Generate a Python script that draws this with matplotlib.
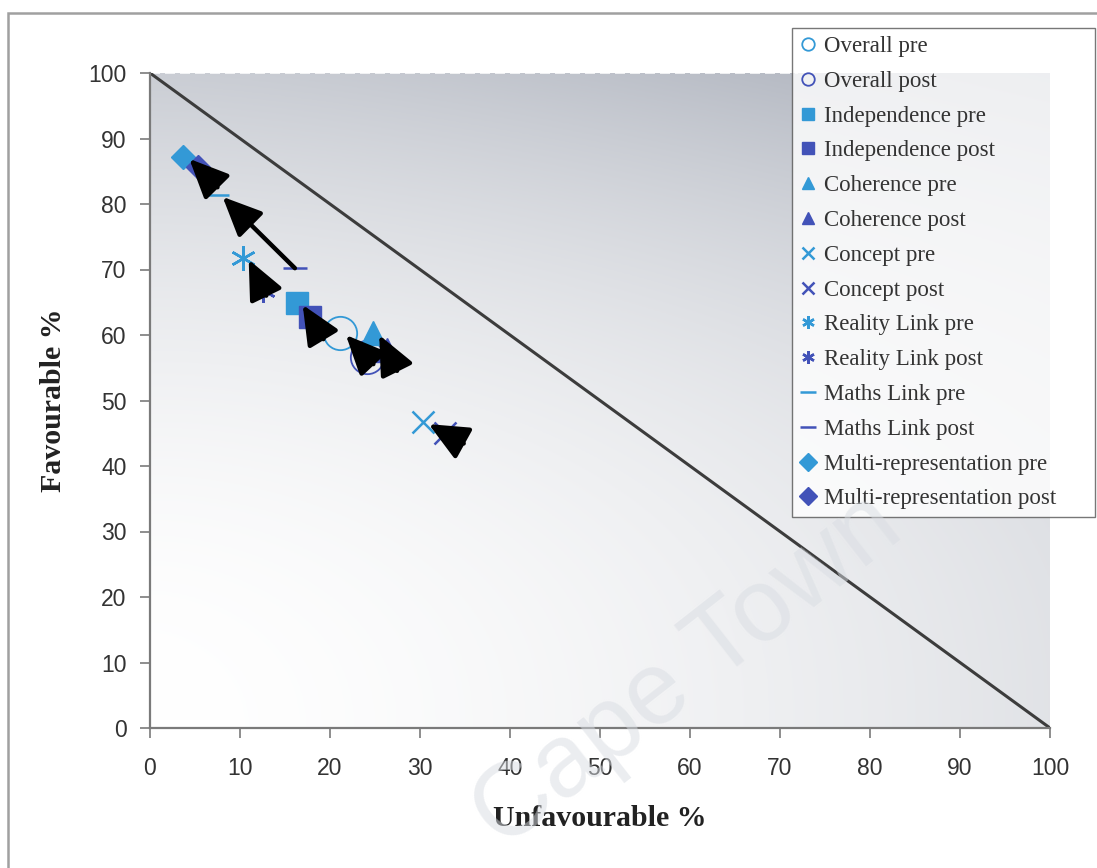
import numpy as np
import matplotlib
matplotlib.use("Agg")
import matplotlib.pyplot as plt
from matplotlib.lines import Line2D
from matplotlib.patches import Rectangle

# ---- data (Unfavourable %, Favourable %) ----
categories = ["Overall", "Independence", "Coherence", "Concept",
              "Reality Link", "Maths Link", "Multi-representation"]
pre_unfav = [21.1, 16.3, 24.8, 30.3, 10.3, 7.4, 3.7]
pre_fav = [60.3, 64.9, 60.3, 46.7, 71.8, 81.4, 87.2]
post_unfav = [24.1, 17.8, 26.3, 32.8, 12.6, 16.1, 5.3]
post_fav = [56.6, 62.7, 57.7, 45.0, 66.9, 70.2, 85.6]
x_ticks = [0, 10, 20, 30, 40, 50, 60, 70, 80, 90, 100]
y_ticks = [0, 10, 20, 30, 40, 50, 60, 70, 80, 90, 100]

markers = ["o", "s", "^", "x", "*", "_", "D"]
msizes = [24, 16, 17, 16, 18, 17, 12]
light = "#3399d6"
dark = "#4252b8"

W, H = 1097, 868
fig = plt.figure(figsize=(W / 100, H / 100), dpi=100)
fig.patch.set_facecolor("white")
ax = fig.add_axes([150 / W, (H - 728) / H, 900 / W, 655 / H])

# gradient background (white lower-left -> grey upper-right)
n = 300
gx, gy = np.meshgrid(np.linspace(0, 1, n), np.linspace(0, 1, n))
f = 0.35 * gx ** 1.5 + (0.62 + 0.03 * gx) * gy ** (2.05 + 0.65 * gx)
f = np.clip(f, 0, 1)
c0 = np.array([255, 255, 255]) / 255
c1 = np.array([170, 175, 186]) / 255
img = c0[None, None, :] * (1 - f[..., None]) + c1[None, None, :] * f[..., None]
ax.imshow(img, extent=[0, 100, 0, 100], origin="lower", aspect="auto", zorder=0)

ax.set_xlim(0, 100)
ax.set_ylim(0, 100)

# faint dotted line at top
ax.plot([0, 72], [100, 100], color="white", lw=1.2, ls=(0, (6, 3)), zorder=1, alpha=0.9)

# diagonal reference line
ax.plot([0, 100], [100, 0], color="#3c3c3c", lw=2.2, zorder=2)

handles = []
labels = []
for i, cat in enumerate(categories):
    for which, col, xs, ys in (("pre", light, pre_unfav, pre_fav),
                               ("post", dark, post_unfav, post_fav)):
        m = markers[i]
        kw = dict(marker=m, ls="none", color=col)
        if m == "o":
            kw.update(markerfacecolor="none", markeredgecolor=col, markeredgewidth=1.3)
        elif m in ("x", "*", "_"):
            kw.update(markeredgewidth=1.8)
            if m == "*":
                kw.update(marker=(6, 2, 0))
        else:
            kw.update(markeredgecolor=col)
        ax.plot([xs[i]], [ys[i]], markersize=msizes[i], zorder=3, **kw)
        handles.append(Line2D([], [], markersize=9 if m != "_" else 11, **kw))
        labels.append(f"{cat} {which}")

# arrows (post -> pre), built in display space so short moves still show a head
fig.canvas.draw()
to_pix = ax.transData
to_data = ax.transData.inverted()
for i in range(len(categories)):
    tip = np.array(to_pix.transform((pre_unfav[i], pre_fav[i]))) + np.array([6.0, -2.0])
    tail0 = np.array(to_pix.transform((post_unfav[i], post_fav[i])))
    d = tip - tail0
    L = np.hypot(*d)
    u = d / L
    tail = tip - u * max(L, 40.0)
    ax.annotate("", xy=to_data.transform(tip), xytext=to_data.transform(tail),
                arrowprops=dict(arrowstyle="-|>,head_length=1.0,head_width=0.45",
                                mutation_scale=24, lw=3.2, color="black",
                                shrinkA=0, shrinkB=0),
                zorder=5)

# axes styling
for s in ("top", "right"):
    ax.spines[s].set_visible(False)
for s in ("left", "bottom"):
    ax.spines[s].set_color("#7a7a7a")
    ax.spines[s].set_linewidth(1.6)
ax.set_xticks(x_ticks)
ax.set_yticks(y_ticks)
ax.tick_params(direction="out", length=7, width=1.2, color="#7a7a7a",
               labelsize=16.5, labelcolor="#333333")
ax.tick_params(axis="x", pad=14)
ax.tick_params(axis="y", pad=10)
for lab in ax.get_xticklabels() + ax.get_yticklabels():
    lab.set_family("Liberation Sans")

ax.set_xlabel("Unfavourable %", family="Liberation Serif", fontweight="bold",
              fontsize=21.5, color="#222222")
ax.set_ylabel("Favourable %", family="Liberation Serif", fontweight="bold",
              fontsize=21.5, color="#222222")
ax.xaxis.label.set_va("center")
ax.xaxis.set_label_coords(0.5, (728 - 818) / 655)
ax.yaxis.label.set_va("center")
ax.yaxis.label.set_ha("center")
ax.yaxis.set_label_coords((54 - 150) / 900, 0.5)

# watermark
fig.text(688 / W, 1 - 672 / H, "Cape Town", fontsize=74, color="#d8dce2",
         alpha=0.5, rotation=38, ha="center", va="center",
         family="Liberation Sans", zorder=10)

# legend
leg = fig.legend(handles, labels, loc="upper left",
                 bbox_to_anchor=(792 / W, (H - 517) / H, 303 / W, 489 / H),
                 mode="expand",
                 prop=dict(family="Liberation Serif", size=16.5),
                 frameon=True, fancybox=False, edgecolor="#555555",
                 labelspacing=0.6, handlelength=0.7, handletextpad=0.35,
                 borderpad=0.35, borderaxespad=0, numpoints=1)
leg.get_frame().set_linewidth(1.0)
for txt in leg.get_texts():
    txt.set_color("#333333")

# outer chart frame
fig.patches.append(Rectangle((8 / W, -0.05), 1.1, 1.05 - 13 / H, transform=fig.transFigure,
                             fill=False, edgecolor="#a0a0a0", lw=1.8))

fig.savefig("out.png", dpi=100)
